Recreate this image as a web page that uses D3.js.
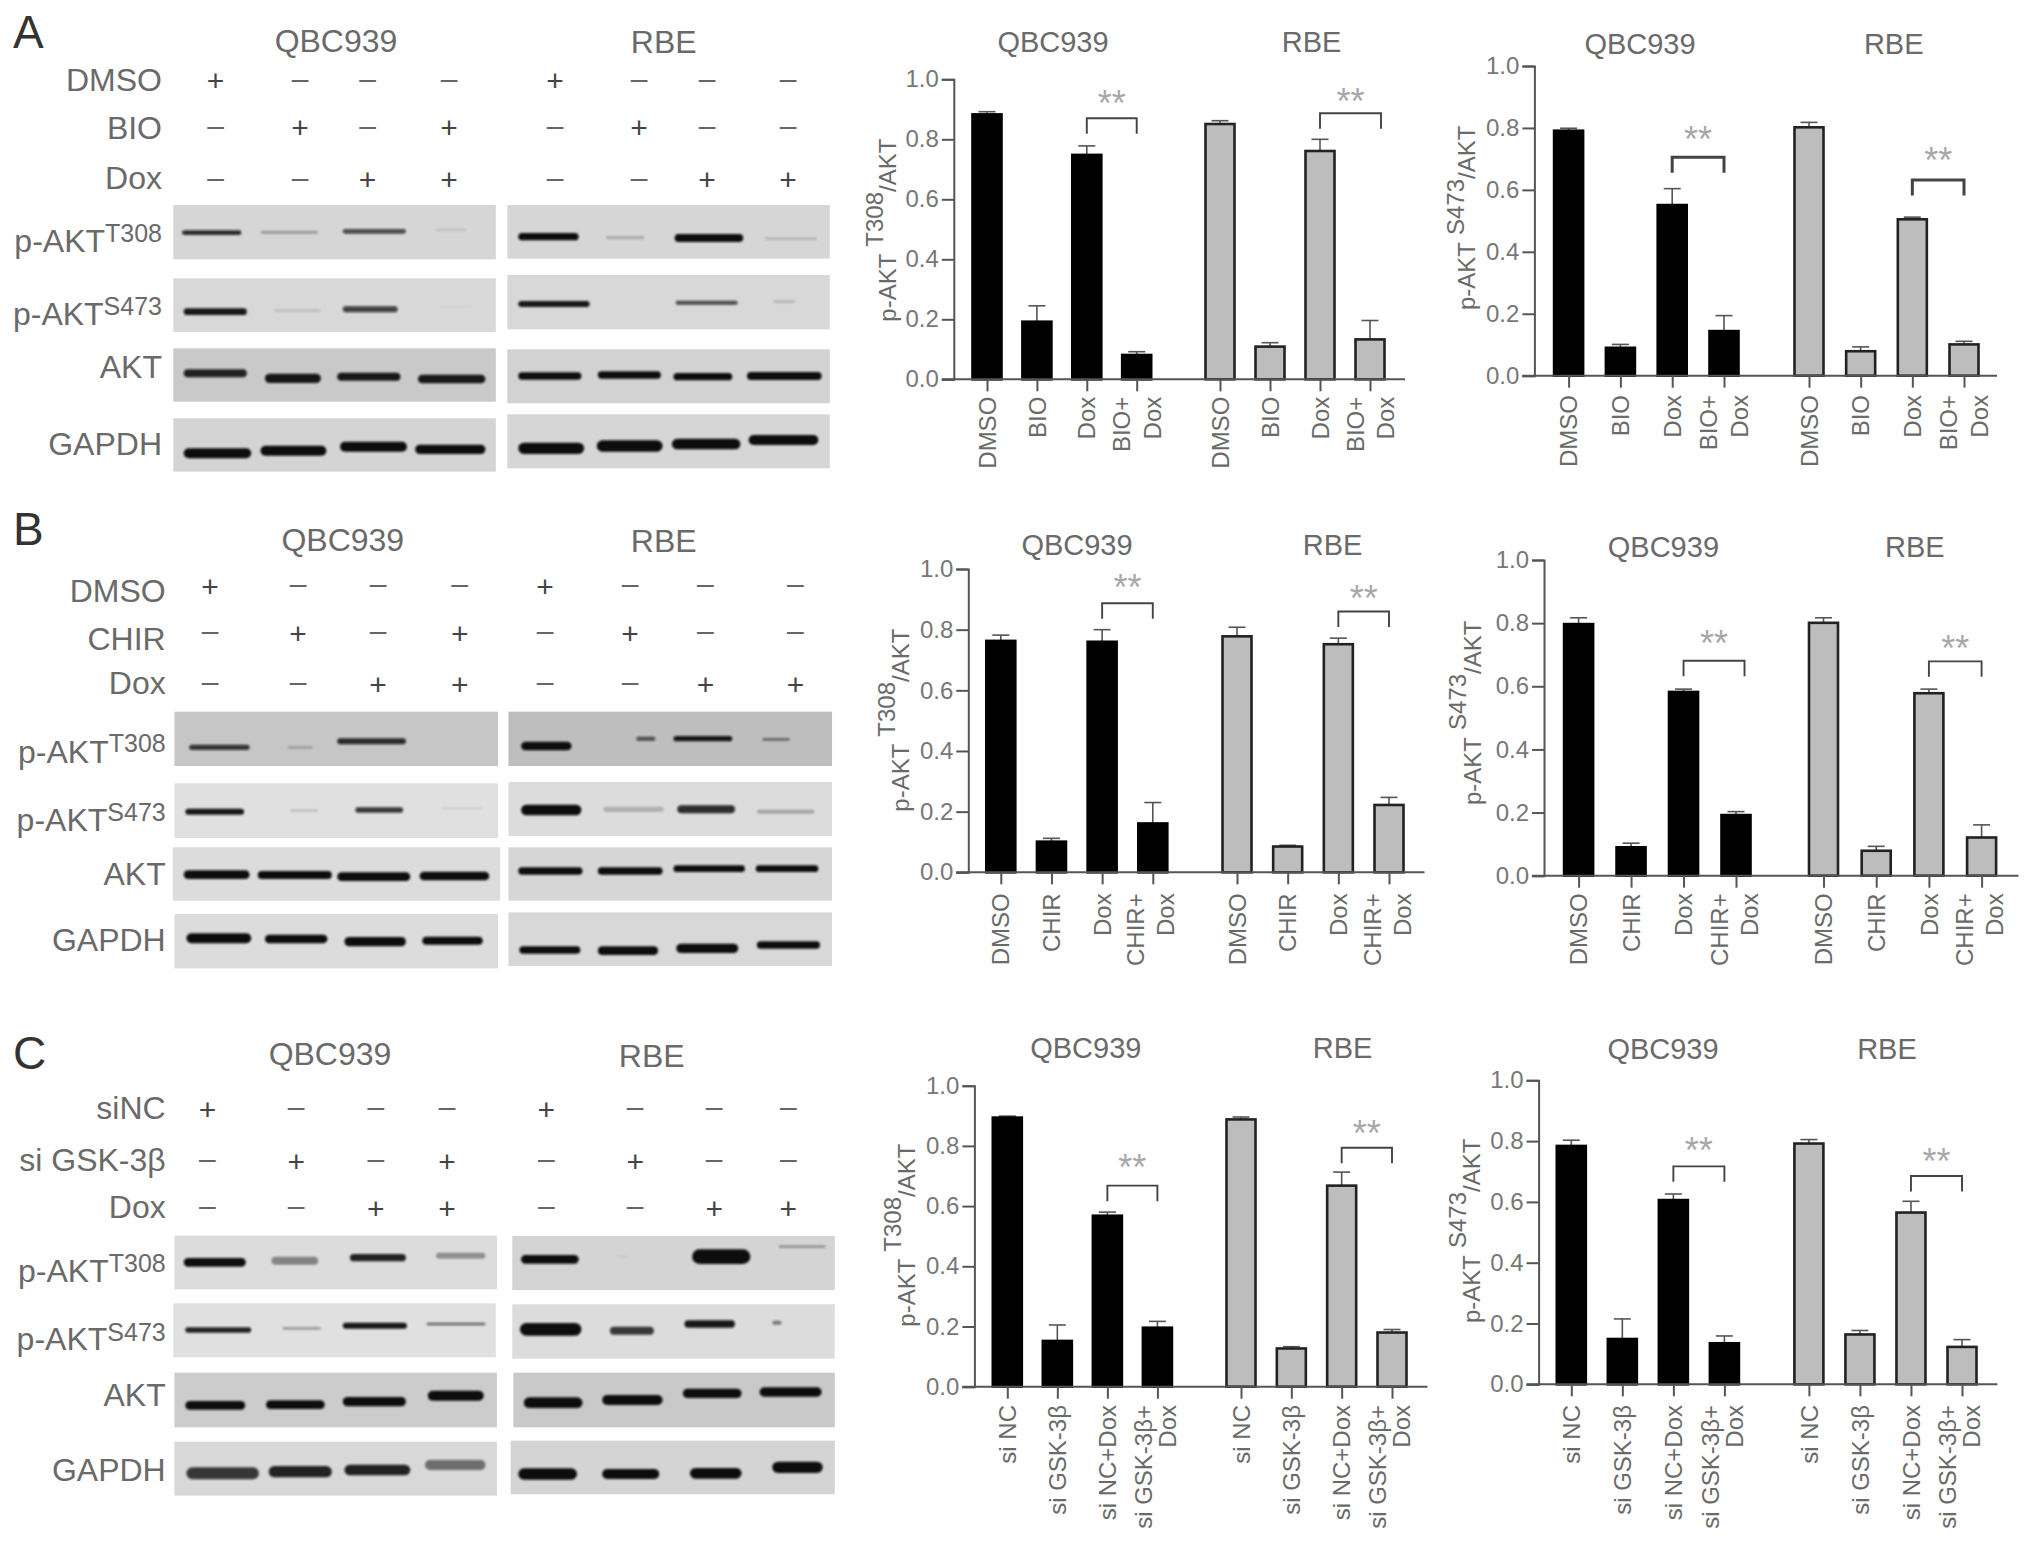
<!DOCTYPE html>
<html>
<head>
<meta charset="utf-8">
<script src="https://cdn.jsdelivr.net/npm/d3@7"></script>
<style>
  body { margin: 0; background: #fff; }
  text { font-family: "Liberation Sans", Arial, sans-serif; }
</style>
</head>
<body>
<svg id="map" width="2032" height="1544"></svg>
<script>
// bar heights and top of the error bars, QBC939 then RBE
const a1Values = [0.883, 0.192, 0.748, 0.081, 0.851, 0.109, 0.761, 0.133];
const a1Errors = [0.892, 0.245, 0.778, 0.092, 0.862, 0.122, 0.800, 0.196];
const a2Values = [0.791, 0.090, 0.551, 0.144, 0.802, 0.079, 0.505, 0.101];
const a2Errors = [0.799, 0.101, 0.604, 0.194, 0.818, 0.093, 0.512, 0.111];
const b1Values = [0.763, 0.101, 0.760, 0.161, 0.778, 0.085, 0.752, 0.222];
const b1Errors = [0.782, 0.112, 0.800, 0.230, 0.808, 0.089, 0.772, 0.247];
const b2Values = [0.797, 0.090, 0.582, 0.192, 0.801, 0.079, 0.578, 0.121];
const b2Errors = [0.817, 0.103, 0.591, 0.203, 0.817, 0.093, 0.591, 0.161];
const c1Values = [0.894, 0.152, 0.568, 0.196, 0.888, 0.127, 0.668, 0.180];
const c1Errors = [0.899, 0.205, 0.580, 0.217, 0.896, 0.133, 0.713, 0.190];
const c2Values = [0.784, 0.149, 0.606, 0.135, 0.792, 0.164, 0.565, 0.123];
const c2Errors = [0.803, 0.215, 0.626, 0.159, 0.805, 0.177, 0.602, 0.147];

// significance bracket heights, in axis units
const a1Brackets = [0.870, 0.887];
const a2Brackets = [0.705, 0.632];
const b1Brackets = [0.887, 0.860];
const b2Brackets = [0.681, 0.679];
const c1Brackets = [0.668, 0.794];
const c2Brackets = [0.717, 0.685];

const yTicks = [0, 0.2, 0.4, 0.6, 0.8, 1.0];
const catsA = ["DMSO", "BIO", "Dox", ["BIO+", "Dox"]];
const catsB = ["DMSO", "CHIR", "Dox", ["CHIR+", "Dox"]];
const catsC = ["si NC", "si GSK-3β", "si NC+Dox", ["si GSK-3β+", "Dox"]];

// treatment grid above the blots
const rowsA = ["DMSO", "BIO", "Dox"];
const rowsB = ["DMSO", "CHIR", "Dox"];
const rowsC = ["siNC", "si GSK-3β", "Dox"];
const flagsQ = [[1, 0, 0, 0], [0, 1, 0, 1], [0, 0, 1, 1]];
const flagsR = [[1, 0, 0, 0], [0, 1, 0, 0], [0, 0, 1, 1]];

// band density per lane, read from the blots
const aT308Q = [0.85, 0.25, 0.70, 0.12];
const aT308R = [1.00, 0.20, 1.00, 0.15];
const aS473Q = [0.95, 0.12, 0.75, 0.02];
const aS473R = [0.95, 0.00, 0.70, 0.15];
const aAktQ = [0.90, 0.95, 0.95, 0.95];
const aAktR = [1.00, 1.00, 1.00, 1.00];
const aGapdhQ = [1.00, 1.00, 1.00, 1.00];
const aGapdhR = [1.00, 1.00, 1.00, 1.00];
const bT308Q = [0.80, 0.20, 0.85, 0.00];
const bT308R = [1.00, 0.65, 0.95, 0.45];
const bS473Q = [0.95, 0.15, 0.80, 0.08];
const bS473R = [1.00, 0.20, 0.85, 0.25];
const bAktQ = [1.00, 1.00, 1.00, 1.00];
const bAktR = [1.00, 1.00, 1.00, 1.00];
const bGapdhQ = [1.00, 1.00, 1.00, 1.00];
const bGapdhR = [1.00, 1.00, 1.00, 1.00];
const cT308Q = [1.00, 0.40, 0.90, 0.35];
const cT308R = [1.00, 0.05, 1.00, 0.30];
const cS473Q = [0.90, 0.30, 0.95, 0.60];
const cS473R = [1.00, 0.80, 0.95, 0.45];
const cAktQ = [1.00, 1.00, 1.00, 1.00];
const cAktR = [1.00, 1.00, 1.00, 1.00];
const cGapdhQ = [0.80, 0.90, 0.90, 0.55];
const cGapdhR = [1.00, 1.00, 1.00, 1.00];

const svg = d3.select("svg#map");
const grayText = "#6a6a6a";
const axisGray = "#555";

const defs = svg.append("defs");
defs.append("filter").attr("id", "band").attr("x", "-5%").attr("y", "-60%").attr("width", "110%").attr("height", "220%")
    .append("feGaussianBlur").attr("stdDeviation", 1.3);
defs.append("filter").attr("id", "edge")
    .append("feGaussianBlur").attr("stdDeviation", 0.7);

// ---- bar charts ----
const charts = [
  { values: a1Values, errors: a1Errors, brackets: a1Brackets, cats: catsA, site: "T308",
    axisX: 953.8, y1: 79.3, y0: 379.3, right: 1405, centers: [987, 1136.7, 1220, 1370],
    titles: [[1053, 41.7], [1311.6, 41.7]], label: [887, 321.7, 13], labelGap: 17.4,
    starGap: [21.7, 18.3], brEnd: [0, 11], brWidth: 1.9, lineOff: [-15, 15.5] },
  { values: a2Values, errors: a2Errors, brackets: a2Brackets, cats: catsA, site: "S473",
    axisX: 1534.4, y1: 66, y0: 375.7, right: 1997, centers: [1568.6, 1724, 1809, 1964],
    titles: [[1640, 44], [1893.7, 44]], label: [1466.5, 310, 11.5], labelGap: 19.3,
    starGap: [24, 26], brEnd: [0, 0], brWidth: 3, lineOff: [-15.5, 15] },
  { values: b1Values, errors: b1Errors, brackets: b1Brackets, cats: catsB, site: "T308",
    axisX: 968.3, y1: 569, y0: 872.3, right: 1424.5, centers: [1000.8, 1152.8, 1237, 1389],
    titles: [[1077, 545], [1332.6, 545]], label: [900, 811.7, 14], labelGap: 21,
    starGap: [22.7, 19.7], brEnd: [0, 0], brWidth: 1.9, lineOff: [-17, 13] },
  { values: b2Values, errors: b2Errors, brackets: b2Brackets, cats: catsB, site: "S473",
    axisX: 1544, y1: 560, y0: 875.7, right: 2018.5, centers: [1578.6, 1736, 1823.5, 1981.6],
    titles: [[1663.4, 546.7], [1914.8, 546.7]], label: [1472, 805, 15], labelGap: 17.6,
    starGap: [24, 19.7], brEnd: [8.5, 0], brWidth: 1.9, lineOff: [-17, 13] },
  { values: c1Values, errors: c1Errors, brackets: c1Brackets, cats: catsC, site: "T308",
    axisX: 974.4, y1: 1085.7, y0: 1386.7, right: 1427.5, centers: [1007.3, 1157.4, 1241, 1392],
    titles: [[1085.8, 1048], [1342.6, 1048]], label: [906, 1326.7, 14], labelGap: 18.3,
    starGap: [24.7, 20.3], brEnd: [0, 0], brWidth: 1.9, lineOff: [-14.5, 9.5] },
  { values: c2Values, errors: c2Errors, brackets: c2Brackets, cats: catsC, site: "S473",
    axisX: 1538.6, y1: 1080.3, y0: 1384.3, right: 1997.4, centers: [1571.3, 1724.4, 1808.9, 1962],
    titles: [[1663, 1049], [1887, 1049]], label: [1471.5, 1323, 14.5], labelGap: 20.7,
    starGap: [22, 21], brEnd: [0, 0], brWidth: 1.9, lineOff: [-14.5, 9.5] }
];

function drawChart(c) {
  const y = d3.scaleLinear().domain([0, 1]).range([c.y0, c.y1]);
  // lanes 0-3 are QBC939, 4-7 are RBE
  const x = d3.scaleLinear().domain([0, 3, 4, 7]).range(c.centers);
  const bars = d3.range(8).map(i => ({ i, value: c.values[i], err: c.errors[i], rbe: i > 3 }));
  const g = svg.append("g");
  const barW = 29;

  g.selectAll(".errStem").data(bars).enter().append("line")
   .attr("x1", d => x(d.i)).attr("x2", d => x(d.i))
   .attr("y1", d => y(d.value)).attr("y2", d => y(d.err))
   .attr("stroke", "#555").attr("stroke-width", 1.6);
  g.selectAll(".errCap").data(bars).enter().append("line")
   .attr("x1", d => x(d.i) - 8.5).attr("x2", d => x(d.i) + 8.5)
   .attr("y1", d => y(d.err)).attr("y2", d => y(d.err))
   .attr("stroke", "#555").attr("stroke-width", 1.6);

  g.selectAll(".bar").data(bars).enter().append("rect")
   .attr("x", d => x(d.i) - barW / 2)
   .attr("y", d => y(d.value))
   .attr("width", barW)
   .attr("height", d => y(0) - y(d.value))
   .attr("fill", d => d.rbe ? "#bdbdbd" : "#000")
   .attr("stroke", d => d.rbe ? "#222" : "#000")
   .attr("stroke-width", 2.6);

  const yAxis = d3.axisLeft(y).tickValues(yTicks).tickFormat(d3.format(".1f")).tickSize(12).tickPadding(3);
  const gy = g.append("g").attr("transform", `translate(${c.axisX},0)`).call(yAxis);
  const xAxis = d3.axisBottom(x).tickValues(d3.range(8)).tickFormat("").tickSize(12);
  const gx = g.append("g").attr("transform", `translate(0,${c.y0})`).call(xAxis);
  gx.select(".domain").remove();
  g.append("line").attr("x1", c.axisX - 12).attr("x2", c.right)
   .attr("y1", c.y0).attr("y2", c.y0)
   .attr("stroke", axisGray).attr("stroke-width", 2);
  gy.select(".domain").attr("stroke", axisGray).attr("stroke-width", 2);
  g.selectAll(".tick line").attr("stroke", axisGray).attr("stroke-width", 2);
  gy.selectAll(".tick text").attr("font-size", 24).attr("fill", "#777")
    .style("font-family", '"Liberation Sans", Arial, sans-serif');

  // category labels, last one runs on two lines
  d3.range(8).forEach(i => {
    const cat = c.cats[i % 4];
    const lines = Array.isArray(cat) ? cat : [cat];
    const offs = lines.length > 1 ? c.lineOff : [0];
    lines.forEach((t, k) => {
      g.append("text")
       .attr("transform", `translate(${x(i) + offs[k]},${c.y0 + c.labelGap}) rotate(-90)`)
       .attr("text-anchor", "end")
       .attr("dy", "0.36em")
       .attr("font-size", 24)
       .attr("fill", grayText)
       .text(t);
    });
  });

  // brackets and stars over Dox vs combo
  [[2, 3], [6, 7]].forEach((pair, k) => {
    const bx0 = x(pair[0]), bx1 = x(pair[1]) + c.brEnd[k], by = y(c.brackets[k]);
    const drop = 15.5;
    g.append("path")
     .attr("d", `M${bx0},${by + drop}V${by}H${bx1}V${by + drop}`)
     .attr("fill", "none").attr("stroke", "#444").attr("stroke-width", c.brWidth);
    g.append("text")
     .attr("x", (bx0 + bx1) / 2)
     .attr("y", by - c.starGap[k] + 19)
     .attr("text-anchor", "middle")
     .attr("font-size", 36)
     .attr("fill", "#a8a8a8")
     .text("**");
  });

  ["QBC939", "RBE"].forEach((t, k) => {
    g.append("text")
     .attr("x", c.titles[k][0]).attr("y", c.titles[k][1])
     .attr("text-anchor", "middle").attr("dy", "0.36em")
     .attr("font-size", 29).attr("fill", grayText)
     .text(t);
  });

  // y axis title
  const lab = g.append("text")
    .attr("transform", `translate(${c.label[0] + 8.5},${c.label[1]}) rotate(-90)`)
    .attr("font-size", 24).attr("fill", grayText);
  lab.append("tspan").text("p-AKT");
  lab.append("tspan").attr("dx", 7).attr("dy", -c.label[2]).text(c.site);
  lab.append("tspan").attr("dy", c.label[2]).text("/AKT");
}

charts.forEach(drawChart);

// ---- blots ----
// geometry below was read on the zoomed crops, sx/sy bring it back to page pixels
const sx = d3.scaleLinear().domain([0, 1568]).range([0, 860]);
const sy = v => v / 3;

// band: x0, x1, y centre, thickness
const blots = [
  { off: 0, letter: "A", rows: rowsA, labelRight: 162, letterY: 48,
    titles: [[336, 40.7], [663.7, 41.7]],
    rowY: [79, 127.3, 177.7], flagY: [80.5, 127.8, 179.5],
    lanesQ: [215.6, 300, 367.5, 449], lanesR: [555, 639, 707, 788],
    labelY: [[252, 242], [325, 315], [378], [455]],
    strips: [
      { x: [316, 904], y: [615, 778], bg: "#d6d6d6", dens: aT308Q, b: [[332, 440, 698, 14], [475, 580, 697, 10], [625, 740, 694, 14], [795, 850, 690, 6]] },
      { x: [925, 1513], y: [615, 776], bg: "#d6d6d6", dens: aT308R, b: [[945, 1055, 710, 22], [1105, 1175, 713, 10], [1230, 1355, 714, 24], [1395, 1490, 716, 8]] },
      { x: [316, 904], y: [835, 996], bg: "#d8d8d8", dens: aS473Q, b: [[335, 450, 935, 20], [500, 585, 932, 8], [625, 725, 928, 18], [800, 860, 920, 6]] },
      { x: [925, 1513], y: [825, 988], bg: "#d8d8d8", dens: aS473R, b: [[945, 1075, 912, 18], [1100, 1200, 912, 6], [1232, 1345, 908, 12], [1410, 1450, 905, 8]] },
      { x: [316, 904], y: [1045, 1205], bg: "#c9c9c9", dens: aAktQ, b: [[335, 450, 1120, 24], [483, 585, 1135, 28], [615, 730, 1130, 24], [762, 885, 1137, 26]] },
      { x: [925, 1513], y: [1048, 1210], bg: "#d2d2d2", dens: aAktR, b: [[945, 1060, 1128, 22], [1090, 1205, 1125, 22], [1228, 1335, 1130, 22], [1362, 1498, 1128, 24]] },
      { x: [316, 904], y: [1255, 1415], bg: "#d4d4d4", dens: aGapdhQ, b: [[335, 458, 1360, 30], [475, 595, 1352, 30], [620, 742, 1340, 30], [757, 885, 1348, 28]] },
      { x: [925, 1513], y: [1243, 1405], bg: "#d6d6d6", dens: aGapdhR, b: [[945, 1065, 1345, 34], [1088, 1208, 1338, 34], [1225, 1350, 1332, 32], [1365, 1492, 1320, 30]] }
    ] },
  { off: 510, letter: "B", rows: rowsB, labelRight: 165.7, letterY: 545,
    titles: [[342.8, 539.3], [663.7, 540.7]],
    rowY: [590, 638, 682.7], flagY: [586, 633.3, 684],
    lanesQ: [210, 298, 378, 459.7], lanesR: [545, 630, 705.4, 795.4],
    labelY: [[763, 752], [831, 820.7], [885], [950.7]],
    strips: [
      { x: [318, 908], y: [605, 768], bg: "#c6c6c6", dens: bT308Q, b: [[345, 455, 712, 16], [525, 570, 712, 8], [615, 740, 694, 18], [800, 860, 700, 4]] },
      { x: [927, 1517], y: [605, 768], bg: "#bebebe", dens: bT308R, b: [[950, 1042, 708, 26], [1160, 1195, 686, 12], [1228, 1335, 686, 16], [1390, 1440, 688, 8]] },
      { x: [318, 908], y: [820, 984], bg: "#e0e0e0", dens: bS473Q, b: [[338, 445, 905, 18], [530, 580, 902, 8], [648, 735, 900, 16], [805, 880, 895, 6]] },
      { x: [927, 1517], y: [816, 978], bg: "#dcdcdc", dens: bS473R, b: [[950, 1060, 900, 32], [1100, 1210, 898, 16], [1235, 1340, 898, 24], [1380, 1485, 905, 12]] },
      { x: [315, 912], y: [1012, 1172], bg: "#dcdcdc", dens: bAktQ, b: [[335, 455, 1094, 26], [470, 605, 1095, 24], [615, 748, 1100, 26], [765, 892, 1098, 26]] },
      { x: [927, 1517], y: [1012, 1172], bg: "#d6d6d6", dens: bAktR, b: [[945, 1062, 1083, 22], [1090, 1208, 1083, 22], [1228, 1358, 1076, 20], [1378, 1492, 1076, 20]] },
      { x: [318, 908], y: [1212, 1375], bg: "#dcdcdc", dens: bGapdhQ, b: [[340, 458, 1285, 30], [483, 597, 1287, 26], [628, 740, 1295, 28], [770, 880, 1292, 24]] },
      { x: [927, 1517], y: [1207, 1368], bg: "#d8d8d8", dens: bGapdhR, b: [[947, 1058, 1320, 22], [1090, 1200, 1322, 26], [1233, 1346, 1315, 28], [1380, 1495, 1305, 22]] }
    ] },
  { off: 1020, letter: "C", rows: rowsC, labelRight: 165.7, letterY: 1069,
    titles: [[330, 1053], [651.7, 1055]],
    rowY: [1107.3, 1159, 1206], flagY: [1109, 1161.3, 1208.3],
    lanesQ: [207.4, 296.2, 375.8, 447], lanesR: [546.3, 635.2, 714.2, 788.3],
    labelY: [[1281.7, 1271.7], [1350, 1340.7], [1406], [1480.7]],
    strips: [
      { x: [318, 906], y: [647, 808], bg: "#dcdcdc", dens: cT308Q, b: [[335, 448, 727, 26], [495, 580, 722, 24], [638, 740, 713, 22], [795, 885, 707, 18]] },
      { x: [934, 1522], y: [648, 810], bg: "#d4d4d4", dens: cT308R, b: [[950, 1055, 718, 26], [1125, 1145, 710, 6], [1262, 1368, 710, 44], [1420, 1505, 680, 8]] },
      { x: [316, 904], y: [850, 1012], bg: "#e0e0e0", dens: cS473Q, b: [[338, 458, 930, 16], [515, 585, 925, 8], [625, 742, 917, 18], [778, 885, 912, 8]] },
      { x: [934, 1522], y: [853, 1016], bg: "#dcdcdc", dens: cS473R, b: [[948, 1060, 928, 38], [1112, 1192, 932, 24], [1248, 1340, 912, 22], [1408, 1425, 908, 12]] },
      { x: [318, 906], y: [1058, 1222], bg: "#cccccc", dens: cAktQ, b: [[338, 447, 1156, 26], [485, 592, 1154, 26], [625, 740, 1145, 28], [780, 882, 1127, 30]] },
      { x: [936, 1522], y: [1058, 1222], bg: "#c9c9c9", dens: cAktR, b: [[955, 1062, 1148, 32], [1098, 1208, 1140, 30], [1245, 1352, 1120, 28], [1385, 1498, 1116, 28]] },
      { x: [318, 906], y: [1265, 1427], bg: "#d8d8d8", dens: cGapdhQ, b: [[340, 472, 1360, 36], [490, 605, 1355, 34], [628, 748, 1350, 32], [775, 885, 1335, 30]] },
      { x: [931, 1522], y: [1262, 1423], bg: "#d4d4d4", dens: cGapdhR, b: [[945, 1052, 1362, 34], [1098, 1202, 1362, 30], [1258, 1352, 1360, 32], [1408, 1500, 1342, 34]] }
    ] }
];

function drawBlot(p) {
  const g = svg.append("g");
  const py = v => sy(v) + p.off;

  g.append("text").attr("x", 13).attr("y", p.letterY)
   .attr("font-size", 46).attr("fill", "#333").text(p.letter);

  ["QBC939", "RBE"].forEach((t, k) => {
    g.append("text").attr("x", p.titles[k][0]).attr("y", p.titles[k][1])
     .attr("text-anchor", "middle").attr("dy", "0.36em")
     .attr("font-size", 32).attr("fill", grayText).text(t);
  });

  p.rows.forEach((name, r) => {
    g.append("text").attr("x", p.labelRight).attr("y", p.rowY[r])
     .attr("text-anchor", "end").attr("dy", "0.36em")
     .attr("font-size", 32).attr("fill", grayText).text(name);
    [[p.lanesQ, flagsQ[r]], [p.lanesR, flagsR[r]]].forEach(([lanes, flags]) => {
      g.selectAll(null).data(flags).enter().append("text")
       .attr("x", (d, i) => lanes[i])
       .attr("y", d => p.flagY[r] + (d ? 10.5 : 8))
       .attr("text-anchor", "middle")
       .attr("font-size", 30)
       .attr("fill", d => d ? "#444" : "#666")
       .text(d => d ? "+" : "–");
    });
  });

  const names = [["p-AKT", "T308"], ["p-AKT", "S473"], ["AKT"], ["GAPDH"]];
  names.forEach((n, r) => {
    const t = g.append("text").attr("x", p.labelRight).attr("y", p.labelY[r][0])
      .attr("text-anchor", "end").attr("font-size", 32).attr("fill", grayText);
    t.append("tspan").text(n[0]);
    if (n[1]) {
      t.append("tspan").attr("font-size", 25)
       .attr("dy", p.labelY[r][1] - p.labelY[r][0]).text(n[1]);
    }
  });

  p.strips.forEach(s => {
    const x0 = sx(s.x[0]), x1 = sx(s.x[1]), y0 = py(s.y[0]), y1 = py(s.y[1]);
    g.append("rect").attr("x", x0).attr("y", y0)
     .attr("width", x1 - x0).attr("height", y1 - y0)
     .attr("fill", s.bg).attr("filter", "url(#edge)");
    g.append("g").attr("filter", "url(#band)")
     .selectAll("rect").data(s.b).enter().append("rect")
     .attr("x", d => sx(d[0]))
     .attr("width", d => sx(d[1]) - sx(d[0]))
     .attr("y", d => py(d[2]) - sy(d[3]) / 2)
     .attr("height", d => sy(d[3]))
     .attr("rx", d => sy(d[3]) / 2)
     .attr("fill", "#0c0c0c")
     .attr("fill-opacity", (d, i) => s.dens[i]);
  });
}

blots.forEach(drawBlot);
</script>
</body>
</html>
